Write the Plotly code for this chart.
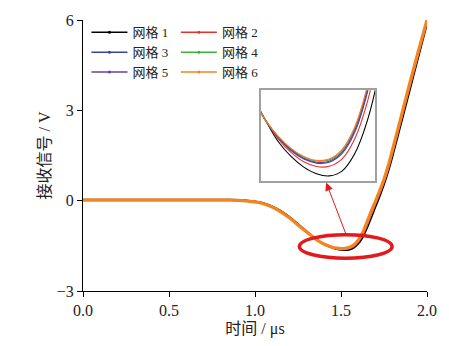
import plotly.graph_objects as go

t = [0.0, 0.1, 0.2, 0.3, 0.4, 0.5, 0.6, 0.7, 0.8, 0.85, 0.9, 0.95, 1.0, 1.05, 1.1, 1.15, 1.2, 1.25, 1.3,
     1.325, 1.35, 1.375, 1.4, 1.425, 1.45, 1.475, 1.5, 1.525, 1.55, 1.575, 1.6, 1.625, 1.65, 1.675, 1.7,
     1.725, 1.75, 1.775, 1.8, 1.85, 1.9, 1.95, 2.0]

grid1 = [0.04, 0.04, 0.04, 0.04, 0.04, 0.04, 0.04, 0.04, 0.04, 0.04, 0.03, 0.01, -0.02, -0.08, -0.18, -0.33, -0.53, -0.77, -1.01,
         -1.13, -1.245, -1.35, -1.44, -1.52, -1.575, -1.615, -1.64, -1.648, -1.63, -1.565, -1.44, -1.24, -0.94, -0.59, -0.23,
         0.13, 0.52, 0.96, 1.46, 2.55, 3.65, 4.75, 5.85]
grid2 = [0.02, 0.02, 0.02, 0.02, 0.02, 0.02, 0.02, 0.02, 0.02, 0.02, 0.01, -0.01, -0.03, -0.09, -0.20, -0.36, -0.56, -0.80, -1.03,
         -1.14, -1.255, -1.355, -1.44, -1.51, -1.56, -1.595, -1.613, -1.612, -1.585, -1.51, -1.37, -1.15, -0.83, -0.47, -0.12,
         0.23, 0.61, 1.06, 1.58, 2.68, 3.78, 4.86, 5.93]
grid3 = [0.02, 0.02, 0.02, 0.02, 0.02, 0.02, 0.02, 0.02, 0.02, 0.02, 0.01, -0.01, -0.04, -0.10, -0.21, -0.37, -0.57, -0.81, -1.04,
         -1.145, -1.258, -1.358, -1.44, -1.505, -1.553, -1.585, -1.60, -1.597, -1.565, -1.485, -1.335, -1.10, -0.77, -0.40, -0.05,
         0.30, 0.68, 1.13, 1.66, 2.76, 3.86, 4.94, 5.98]
grid4 = [0.02, 0.02, 0.02, 0.02, 0.02, 0.02, 0.02, 0.02, 0.02, 0.02, 0.01, -0.01, -0.04, -0.10, -0.21, -0.37, -0.57, -0.81, -1.04,
         -1.15, -1.26, -1.36, -1.44, -1.502, -1.547, -1.577, -1.592, -1.588, -1.553, -1.47, -1.316, -1.08, -0.74, -0.37, -0.03,
         0.32, 0.70, 1.16, 1.69, 2.79, 3.89, 4.96, 5.99]
grid5 = [0.02, 0.02, 0.02, 0.02, 0.02, 0.02, 0.02, 0.02, 0.02, 0.02, 0.01, -0.01, -0.04, -0.10, -0.21, -0.37, -0.57, -0.81, -1.04,
         -1.15, -1.26, -1.36, -1.44, -1.504, -1.55, -1.582, -1.597, -1.593, -1.56, -1.478, -1.326, -1.09, -0.76, -0.38, -0.04,
         0.31, 0.69, 1.15, 1.68, 2.78, 3.88, 4.95, 5.99]
grid6 = [0.02, 0.02, 0.02, 0.02, 0.02, 0.02, 0.02, 0.02, 0.02, 0.02, 0.01, -0.01, -0.04, -0.10, -0.21, -0.37, -0.57, -0.81, -1.04,
         -1.15, -1.26, -1.36, -1.44, -1.50, -1.545, -1.575, -1.59, -1.585, -1.55, -1.465, -1.31, -1.07, -0.73, -0.36, -0.02,
         0.33, 0.71, 1.17, 1.70, 2.80, 3.90, 4.97, 6.00]

names = ["网格 1", "网格 2", "网格 3", "网格 4", "网格 5", "网格 6"]
series = [grid1, grid2, grid3, grid4, grid5, grid6]
colors = ["#000000", "#E8312A", "#3344A8", "#3DB036", "#6B3FA0", "#F5841F"]
widths = [1.5, 1.5, 1.5, 1.5, 1.5, 3.2]

x_ticks = [0.0, 0.5, 1.0, 1.5, 2.0]
y_ticks = [-3, 0, 3, 6]

serif = "Times New Roman, Liberation Serif, Noto Sans CJK SC, serif"
cjk = "Liberation Serif, Noto Sans CJK SC, sans-serif"

fig = go.Figure()
for nm, ys, c, w in zip(names, series, colors, widths):
    fig.add_trace(go.Scatter(x=t, y=ys, mode="lines", line=dict(color=c, width=w, shape="spline"),
                             showlegend=False, xaxis="x", yaxis="y"))
for nm, ys, c in zip(names, series, colors):
    fig.add_trace(go.Scatter(x=t, y=ys, mode="lines", line=dict(color=c, width=1.1, shape="spline"),
                             showlegend=False, xaxis="x2", yaxis="y2"))
# legend entries
for i, (nm, c) in enumerate(zip(names, colors)):
    fig.add_trace(go.Scatter(x=[None], y=[None], mode="lines+markers", name=nm,
                             line=dict(color=c, width=1.5), marker=dict(color=c, size=3),
                             legend="legend" if i % 2 == 0 else "legend2"))

fig.add_shape(type="circle", xref="x", yref="y", x0=1.258, x1=1.797, y0=-1.91, y1=-1.13,
              line=dict(color="#E3191C", width=3.5))
fig.add_annotation(x=1.414, y=0.6, xref="x", yref="y", ax=1.53, ay=-1.13, axref="x", ayref="y",
                   showarrow=True, arrowhead=2, arrowsize=1.6, arrowwidth=1, arrowcolor="#E3191C", text="")

leg_common = dict(bgcolor="rgba(0,0,0,0)", font=dict(family=cjk, size=13, color="#222"),
                  itemwidth=36, tracegroupgap=0, yanchor="top", xanchor="left")
fig.update_layout(
    width=449, height=346,
    margin=dict(l=83, r=21, t=18, b=50),
    plot_bgcolor="white", paper_bgcolor="white",
    xaxis=dict(range=[0, 2], tickvals=x_ticks, tickformat=".1f", showline=True, linecolor="black", linewidth=1.2,
               ticks="outside", ticklen=5, tickcolor="black", showgrid=False, zeroline=False,
               tickfont=dict(family=serif, size=16, color="#222"),
               title=dict(text="时间 / μs", font=dict(family=cjk, size=16, color="#222"), standoff=4)),
    yaxis=dict(range=[-3, 6], tickvals=y_ticks, showline=True, linecolor="black", linewidth=1.2,
               ticks="outside", ticklen=5, tickcolor="black", showgrid=False, zeroline=False,
               tickfont=dict(family=serif, size=16, color="#222"),
               title=dict(text="接收信号 / V", font=dict(family=cjk, size=16, color="#222"), standoff=2)),
    xaxis2=dict(domain=[0.516, 0.849], anchor="y2", range=[1.39, 1.615], showline=True, mirror=True,
                linecolor="#A0A0A0", linewidth=1.5, showticklabels=False, ticks="", showgrid=False, zeroline=False),
    yaxis2=dict(domain=[0.406, 0.741], anchor="x2", range=[-1.667, -1.327], showline=True, mirror=True,
                linecolor="#A0A0A0", linewidth=1.5, showticklabels=False, ticks="", showgrid=False, zeroline=False),
    legend=dict(x=0.01, y=1.01, **leg_common),
    legend2=dict(x=0.27, y=1.01, **leg_common),
)
fig.write_html("out.html")
